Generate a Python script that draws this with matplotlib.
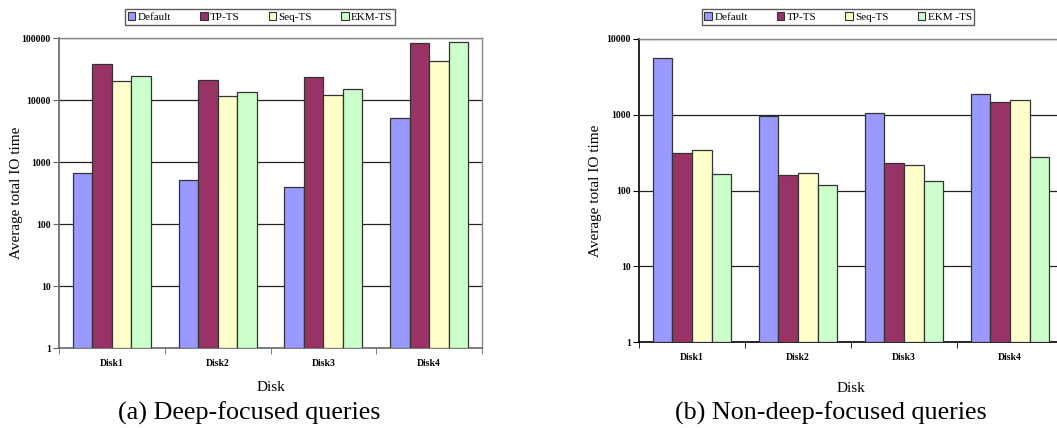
import numpy as np
import matplotlib.pyplot as plt
from matplotlib.patches import Patch

plt.rcParams['font.family'] = ['Liberation Serif', 'DejaVu Serif']

disks = ['Disk1', 'Disk2', 'Disk3', 'Disk4']
methods = ['Default', 'TP-TS', 'Seq-TS', 'EKM-TS']
methods_b = ['Default', 'TP-TS', 'Seq-TS', 'EKM -TS']
colors = ['#9999ff', '#993366', '#ffffcc', '#ccffcc']

# (a) deep-focused queries
deep_default = [666, 513, 395, 5150]
deep_tpts = [38500, 20900, 23400, 82000]
deep_seqts = [19900, 11400, 12100, 43000]
deep_ekmts = [24600, 13400, 14800, 86100]

# (b) non-deep-focused queries
nondeep_default = [5610, 972, 1055, 1897]
nondeep_tpts = [316, 159, 231, 1459]
nondeep_seqts = [346, 170, 219, 1581]
nondeep_ekmts = [165, 117, 133, 280]

fig = plt.figure(figsize=(10.57, 4.28), dpi=100)


def draw_panel(ax, series, ymax, names, spine_col, caption, cap_x, ylab_x,
               xlab_pad, leg_center):
    x = np.arange(len(disks))
    w = 0.184
    for i, vals in enumerate(series):
        ax.bar(x + (i - 1.5) * w, vals, w, bottom=1, color=colors[i],
               edgecolor='#333333', linewidth=0.9, zorder=3)
    ax.set_yscale('log')
    ax.set_ylim(1, ymax)
    ax.set_xlim(-0.5, 3.5)
    decades = [10 ** k for k in range(int(np.log10(ymax)) + 1)]
    ax.set_yticks(decades)
    ax.set_yticklabels([str(d) for d in decades], fontsize=7, fontweight='bold')
    ax.yaxis.set_minor_locator(plt.NullLocator())
    for d in decades[1:]:
        ax.axhline(d, color='#222222', linewidth=0.9, zorder=1)
    ax.set_xticks(np.arange(-0.5, 4.0, 1.0), minor=True)
    ax.set_xticks(x)
    ax.set_xticklabels(disks, fontsize=7, fontweight='bold')
    ax.tick_params(axis='x', which='major', length=0, pad=8)
    ax.tick_params(axis='x', which='minor', length=4, color=spine_col, direction='out')
    ax.tick_params(axis='y', which='major', length=4, color=spine_col, pad=2)
    for s in ['left', 'bottom']:
        ax.spines[s].set_color(spine_col)
        ax.spines[s].set_linewidth(1.2)
    for s in ['top', 'right']:
        ax.spines[s].set_color('#888888')
        ax.spines[s].set_linewidth(1.0)
    ax.set_xlabel('Disk', fontsize=11, labelpad=xlab_pad)
    ax.set_ylabel('Average total IO time', fontsize=11)
    ax.yaxis.set_label_coords(ylab_x, 0.5)
    handles = [Patch(facecolor=c, edgecolor='#333333', linewidth=0.8) for c in colors]
    fig.legend(handles, names, loc='center', bbox_to_anchor=leg_center, ncol=4,
               fontsize=8, frameon=True, fancybox=False, edgecolor='#333333',
               handlelength=0.7, handleheight=0.7, handletextpad=0.2,
               columnspacing=2.6, borderpad=0.25)
    fig.text(cap_x, 0.035, caption, fontsize=18.8, ha='center', va='center')


ax1 = fig.add_axes([59 / 1057, 1 - 348 / 428, 423 / 1057, 310 / 428])
draw_panel(ax1, [deep_default, deep_tpts, deep_seqts, deep_ekmts], 100000,
           methods, '#666666', '(a) Deep-focused queries', 249 / 1057, -0.085,
           9, (260 / 1057, 1 - 17 / 428))

ax2 = fig.add_axes([639 / 1057, 1 - 342 / 428, 424 / 1057, 303 / 428])
draw_panel(ax2, [nondeep_default, nondeep_tpts, nondeep_seqts, nondeep_ekmts], 10000,
           methods_b, '#000000', '(b) Non-deep-focused queries', 831 / 1057, -0.088,
           14, (838 / 1057, 1 - 17 / 428))

fig.savefig('out.png', dpi=100)
